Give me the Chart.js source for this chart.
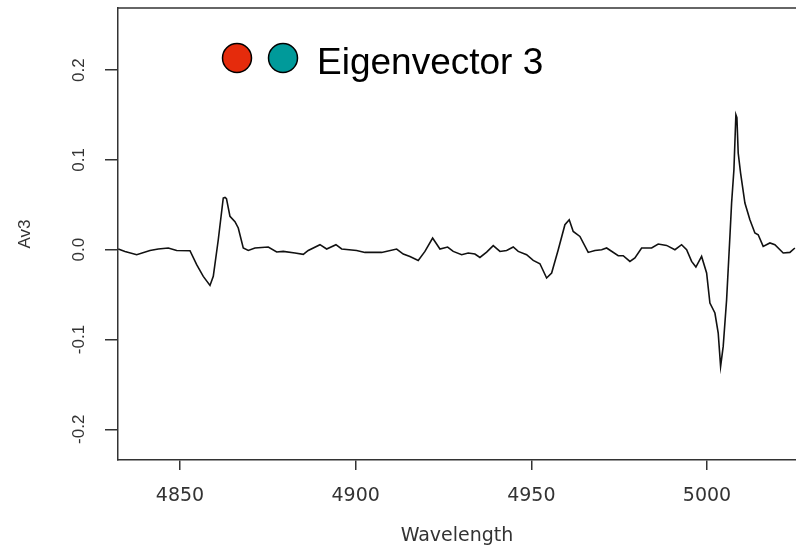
<!DOCTYPE html>
<html>
<head>
<meta charset="utf-8">
<title>Eigenvector 3</title>
<script src="https://cdn.jsdelivr.net/npm/chart.js@4.4.0/dist/chart.umd.min.js"></script>
<style>
  html, body { margin: 0; padding: 0; background: #fff; }
  #wrap { width: 796px; height: 551px; }
</style>
</head>
<body>
<div id="wrap"><canvas id="chart" width="796" height="551"></canvas></div>
<script>
// spectrum
const wavelengths = [
    4832.44, 4834.35, 4837.68, 4841.46, 4843.82, 4846.67, 4849.06, 4852.85, 4854.75, 4856.63,
    4858.54, 4859.48, 4860.90, 4862.32, 4862.81, 4863.23, 4864.23, 4865.65, 4866.59, 4868.01,
    4869.44, 4871.34, 4875.13, 4877.52, 4879.40, 4882.73, 4885.09, 4886.51, 4889.84, 4891.75,
    4894.39, 4896.02, 4900.28, 4902.65, 4907.40, 4911.67, 4913.55, 4915.45, 4917.81, 4919.72,
    4921.91, 4923.99, 4926.18, 4927.77, 4930.17, 4932.04, 4933.95, 4935.37, 4937.28, 4939.16,
    4941.07, 4942.97, 4944.85, 4946.27, 4948.66, 4950.54, 4952.45, 4954.35, 4955.78, 4957.66,
    4959.56, 4960.79, 4961.92, 4963.83, 4966.19, 4968.10, 4970.01, 4971.43, 4974.73, 4976.15,
    4978.06, 4979.48, 4981.39, 4984.24, 4986.11, 4988.50, 4990.87, 4992.77, 4994.20, 4995.62,
    4996.84, 4998.46, 4999.89, 5000.83, 5002.25, 5003.19, 5003.87, 5004.61, 5005.58, 5006.52,
    5007.00, 5007.66, 5008.22, 5008.51, 5008.88, 5009.56, 5010.79, 5012.21, 5013.63, 5014.57,
    5015.99, 5017.90, 5019.32, 5021.69, 5023.59, 5025.01
];
const av3 = [
    0.0008, -0.0019, -0.0056, -0.0008, 0.0008, 0.0019, -0.0008, -0.0011, -0.0167, -0.0297,
    -0.0398, -0.0297, 0.0111, 0.0576, 0.0582, 0.0568, 0.0371, 0.0312, 0.0242, 0.0019,
    -0.0008, 0.0019, 0.0030, -0.0026, -0.0019, -0.0037, -0.0052, -0.0008, 0.0056, 0.0008,
    0.0056, 0.0008, -0.0008, -0.0030, -0.0030, 0.0008, -0.0048, -0.0075, -0.0119, -0.0019,
    0.0130, 0.0008, 0.0030, -0.0019, -0.0056, -0.0037, -0.0048, -0.0086, -0.0026, 0.0045,
    -0.0019, -0.0008, 0.0030, -0.0019, -0.0056, -0.0119, -0.0156, -0.0315, -0.0259, 0.0000,
    0.0278, 0.0334, 0.0204, 0.0148, -0.0030, -0.0008, 0.0000, 0.0019, -0.0067, -0.0067,
    -0.0130, -0.0092, 0.0019, 0.0019, 0.0063, 0.0048, 0.0000, 0.0056, 0.0000, -0.0130,
    -0.0193, -0.0075, -0.0259, -0.0594, -0.0705, -0.0928, -0.1300, -0.1077, -0.0557, 0.0148,
    0.0520, 0.0891, 0.1503, 0.1470, 0.1077, 0.0854, 0.0520, 0.0334, 0.0186, 0.0167,
    0.0037, 0.0075, 0.0056, -0.0037, -0.0030, 0.0019
];
const xTicks = [4850, 4900, 4950, 5000];
const yTicks = [-0.2, -0.1, 0.0, 0.1, 0.2];
const xRange = [4832.36, 5025.33];
const yRange = [-0.2342, 0.2692];
const legendColors = ['#e52b0c', '#009a9a'];
const legendLabel = 'Eigenvector 3';

const axisColor = '#333';

// top edge of the box (R draws the full frame)
const framePlugin = {
    id: 'frame',
    afterDraw(chart) {
        const { ctx, chartArea } = chart;
        ctx.save();
        ctx.strokeStyle = axisColor;
        ctx.lineWidth = 1.5;
        ctx.beginPath();
        ctx.moveTo(chartArea.left, chartArea.top);
        ctx.lineTo(chartArea.right, chartArea.top);
        ctx.stroke();
        ctx.restore();
    }
};

// two filled circles followed by one label, like the R legend
const legendPlugin = {
    id: 'dotLegend',
    afterDraw(chart) {
        const ctx = chart.ctx;
        ctx.save();
        legendColors.forEach((c, i) => {
            ctx.beginPath();
            ctx.arc(237 + i * 46, 58, 14.5, 0, Math.PI * 2);
            ctx.fillStyle = c;
            ctx.fill();
            ctx.lineWidth = 1.5;
            ctx.strokeStyle = '#000';
            ctx.stroke();
        });
        ctx.fillStyle = '#000';
        ctx.font = '37px "Liberation Sans", Arial, sans-serif';
        ctx.textBaseline = 'alphabetic';
        ctx.textAlign = 'left';
        ctx.fillText(legendLabel, 317, 73.5);
        ctx.restore();
    }
};

const ctx = document.getElementById('chart').getContext('2d');
new Chart(ctx, {
    type: 'line',
    data: {
        datasets: [{
            label: 'Av3',
            data: wavelengths.map((w, i) => ({ x: w, y: av3[i] })),
            borderColor: '#111',
            borderWidth: 1.6,
            pointRadius: 0,
            tension: 0,
            fill: false
        }]
    },
    options: {
        responsive: false,
        animation: false,
        devicePixelRatio: 1,
        layout: { padding: { top: 8, left: 0, right: 0, bottom: 0 } },
        plugins: {
            legend: { display: false },
            tooltip: { enabled: false }
        },
        scales: {
            x: {
                type: 'linear',
                min: xRange[0],
                max: xRange[1],
                afterBuildTicks: (scale) => { scale.ticks = xTicks.map(v => ({ value: v })); },
                afterFit: (scale) => {
                    scale.height = 91;
                    scale.paddingLeft = 0;
                    scale.paddingRight = 0;
                },
                ticks: {
                    color: axisColor,
                    font: { family: 'DejaVu Sans', size: 19 },
                    padding: 15,
                    maxRotation: 0,
                    autoSkip: false,
                    callback: (v) => String(v)
                },
                grid: { drawOnChartArea: false, tickLength: 10, color: axisColor, lineWidth: 1.5 },
                border: { display: true, color: axisColor, width: 1.5 },
                title: {
                    display: true,
                    text: 'Wavelength',
                    color: axisColor,
                    font: { family: 'DejaVu Sans', size: 19 },
                    padding: { top: 0, bottom: 4 }
                }
            },
            y: {
                type: 'linear',
                min: yRange[0],
                max: yRange[1],
                afterBuildTicks: (scale) => { scale.ticks = yTicks.map(v => ({ value: v })); },
                afterFit: (scale) => {
                    scale.width = 118;
                    scale.paddingTop = 0;
                    scale.paddingBottom = 0;
                },
                ticks: {
                    color: axisColor,
                    font: { family: 'Liberation Sans', size: 17 },
                    padding: 11,
                    minRotation: 90,
                    maxRotation: 90,
                    crossAlign: 'center',
                    autoSkip: false,
                    callback: (v) => (Math.abs(v) < 1e-9 ? 0 : v).toFixed(1)
                },
                grid: { drawOnChartArea: false, tickLength: 13, color: axisColor, lineWidth: 1.5 },
                border: { display: true, color: axisColor, width: 1.5 },
                title: {
                    display: true,
                    text: 'Av3',
                    color: axisColor,
                    font: { family: 'Liberation Sans', size: 17 },
                    padding: { top: 15, bottom: 0 }
                }
            }
        }
    },
    plugins: [framePlugin, legendPlugin]
});
</script>
</body>
</html>
